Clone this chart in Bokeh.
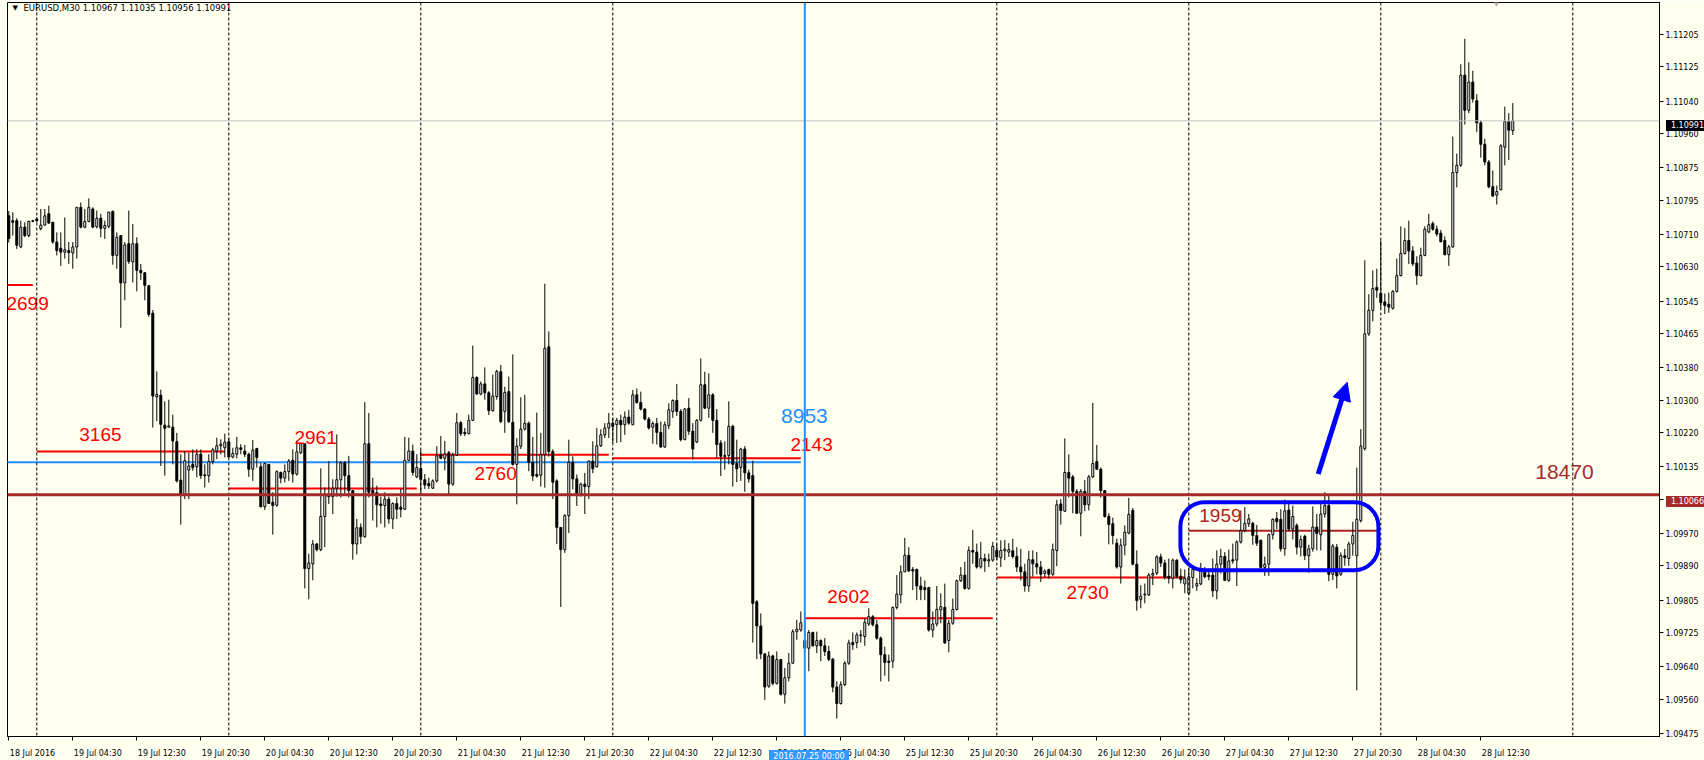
import pandas as pd
from bokeh.plotting import figure
from bokeh.layouts import column
from bokeh.models import (ColumnDataSource, Range1d, FixedTicker, PrintfTickFormatter,
                          Span, Label, BoxAnnotation, Arrow, NormalHead, Div)
from bokeh.core.properties import value
from bokeh.embed import file_html
from bokeh.resources import INLINE

# ---------------- data (EURUSD M30) ----------------
title_text = "EURUSD,M30  1.10967 1.11035 1.10956 1.10991"

open_ = [1.10756, 1.10744, 1.10744, 1.10679, 1.10728, 1.10707, 1.10742, 1.10748,
 1.10724, 1.10733, 1.10761, 1.10740, 1.10691, 1.10676, 1.10666, 1.10670, 1.10664, 1.10679,
 1.10777, 1.10728, 1.10742, 1.10773, 1.10729, 1.10750, 1.10725, 1.10730, 1.10767, 1.10658,
 1.10707, 1.10590, 1.10687, 1.10642, 1.10687, 1.10621, 1.10615, 1.10583, 1.10515, 1.10308,
 1.10312, 1.10238, 1.10233, 1.10233, 1.10197, 1.10102, 1.10066, 1.10127, 1.10141, 1.10135,
 1.10166, 1.10115, 1.10113, 1.10148, 1.10174, 1.10187, 1.10182, 1.10197, 1.10159, 1.10166,
 1.10182, 1.10174, 1.10166, 1.10129, 1.10180, 1.10135, 1.10036, 1.10141, 1.10047, 1.10040,
 1.10121, 1.10107, 1.10123, 1.10151, 1.10117, 1.10170, 1.10192, 1.09883, 1.09895, 1.09944,
 1.09930, 1.10012, 1.10067, 1.10061, 1.10082, 1.10103, 1.10145, 1.10113, 1.10076, 1.09944,
 1.09985, 1.09962, 1.10192, 1.10077, 1.10071, 1.10043, 1.10039, 1.10055, 1.10006, 1.10044,
 1.10035, 1.10030, 1.10151, 1.10174, 1.10110, 1.10131, 1.10103, 1.10094, 1.10082, 1.10100,
 1.10164, 1.10156, 1.10170, 1.10092, 1.10164, 1.10244, 1.10220, 1.10217, 1.10250, 1.10356,
 1.10315, 1.10340, 1.10318, 1.10274, 1.10309, 1.10370, 1.10272, 1.10321, 1.10245, 1.10141,
 1.10186, 1.10228, 1.10243, 1.10146, 1.10116, 1.10114, 1.10165, 1.10432, 1.10173, 1.10100,
 1.09985, 1.09930, 1.10014, 1.10146, 1.10105, 1.10069, 1.10092, 1.10086, 1.10149, 1.10135,
 1.10187, 1.10214, 1.10231, 1.10243, 1.10239, 1.10250, 1.10239, 1.10258, 1.10239, 1.10313,
 1.10294, 1.10278, 1.10253, 1.10233, 1.10242, 1.10220, 1.10184, 1.10237, 1.10272, 1.10299,
 1.10272, 1.10202, 1.10280, 1.10223, 1.10196, 1.10250, 1.10338, 1.10280, 1.10313, 1.10250,
 1.10194, 1.10160, 1.10163, 1.10235, 1.10143, 1.10133, 1.10179, 1.10120, 1.10113, 1.09801,
 1.09741, 1.09672, 1.09592, 1.09667, 1.09599, 1.09658, 1.09572, 1.09613, 1.09649, 1.09727,
 1.09731, 1.09705, 1.09686, 1.09725, 1.09692, 1.09705, 1.09692, 1.09678, 1.09659, 1.09590,
 1.09549, 1.09596, 1.09649, 1.09700, 1.09700, 1.09717, 1.09715, 1.09746, 1.09764, 1.09744,
 1.09711, 1.09670, 1.09654, 1.09654, 1.09787, 1.09818, 1.09875, 1.09916, 1.09881, 1.09881,
 1.09840, 1.09836, 1.09836, 1.09731, 1.09746, 1.09781, 1.09787, 1.09705, 1.09748, 1.09782,
 1.09853, 1.09867, 1.09834, 1.09928, 1.09924, 1.09887, 1.09908, 1.09902, 1.09904, 1.09928,
 1.09910, 1.09927, 1.09924, 1.09927, 1.09913, 1.09887, 1.09875, 1.09840, 1.09905, 1.09895,
 1.09887, 1.09871, 1.09881, 1.09869, 1.09928, 1.10043, 1.10025, 1.10121, 1.10110, 1.10074,
 1.10020, 1.10074, 1.10041, 1.10110, 1.10148, 1.10129, 1.10076, 1.10012, 1.09994, 1.09946,
 1.09887, 1.09941, 1.09971, 1.10027, 1.09894, 1.09807, 1.09818, 1.09818, 1.09867, 1.09872,
 1.09912, 1.09897, 1.09864, 1.09859, 1.09904, 1.09864, 1.09845, 1.09822, 1.09861, 1.09840,
 1.09845, 1.09881, 1.09867, 1.09867, 1.09828, 1.09894, 1.09913, 1.09854, 1.09905, 1.09904,
 1.09949, 1.09977, 1.09994, 1.09995, 1.09965, 1.09953, 1.09886, 1.09894, 1.09967, 1.10007,
 1.10005, 1.09932, 1.10028, 1.09981, 1.09990, 1.09936, 1.09963, 1.09915, 1.09932, 1.09986,
 1.09967, 1.10018, 1.10039, 1.09869, 1.09936, 1.09869, 1.09915, 1.09908, 1.09944, 1.09915,
 1.10002, 1.10180, 1.10464, 1.10522, 1.10579, 1.10564, 1.10543, 1.10537, 1.10527, 1.10569,
 1.10608, 1.10663, 1.10695, 1.10669, 1.10639, 1.10608, 1.10658, 1.10716, 1.10737, 1.10723,
 1.10713, 1.10695, 1.10660, 1.10679, 1.10863, 1.10881, 1.11104, 1.11017, 1.11087, 1.11041,
 1.10986, 1.10933, 1.10889, 1.10828, 1.10807, 1.10821, 1.10926, 1.10989, 1.10967]

high_ = [1.10768, 1.10765, 1.10750, 1.10744, 1.10740, 1.10744, 1.10746, 1.10752,
 1.10773, 1.10773, 1.10781, 1.10740, 1.10715, 1.10715, 1.10752, 1.10691, 1.10691, 1.10777,
 1.10789, 1.10773, 1.10799, 1.10777, 1.10769, 1.10761, 1.10744, 1.10766, 1.10769, 1.10715,
 1.10707, 1.10691, 1.10769, 1.10736, 1.10703, 1.10637, 1.10617, 1.10584, 1.10523, 1.10371,
 1.10326, 1.10297, 1.10301, 1.10264, 1.10219, 1.10166, 1.10174, 1.10170, 1.10178, 1.10178,
 1.10178, 1.10141, 1.10166, 1.10182, 1.10207, 1.10203, 1.10217, 1.10207, 1.10182, 1.10209,
 1.10191, 1.10189, 1.10170, 1.10201, 1.10182, 1.10145, 1.10145, 1.10141, 1.10072, 1.10126,
 1.10123, 1.10141, 1.10154, 1.10178, 1.10199, 1.10195, 1.10192, 1.09920, 1.09954, 1.09946,
 1.10131, 1.10084, 1.10149, 1.10104, 1.10215, 1.10149, 1.10149, 1.10162, 1.10077, 1.10006,
 1.09995, 1.10295, 1.10268, 1.10108, 1.10088, 1.10061, 1.10072, 1.10061, 1.10047, 1.10059,
 1.10080, 1.10209, 1.10207, 1.10190, 1.10166, 1.10176, 1.10117, 1.10108, 1.10104, 1.10186,
 1.10211, 1.10199, 1.10174, 1.10170, 1.10268, 1.10248, 1.10231, 1.10264, 1.10435, 1.10359,
 1.10346, 1.10381, 1.10322, 1.10363, 1.10375, 1.10387, 1.10333, 1.10358, 1.10413, 1.10206,
 1.10307, 1.10313, 1.10247, 1.10209, 1.10269, 1.10219, 1.10588, 1.10470, 1.10178, 1.10104,
 1.09985, 1.10018, 1.10202, 1.10161, 1.10116, 1.10096, 1.10120, 1.10151, 1.10198, 1.10231,
 1.10228, 1.10243, 1.10268, 1.10256, 1.10256, 1.10264, 1.10272, 1.10276, 1.10325, 1.10329,
 1.10321, 1.10280, 1.10258, 1.10247, 1.10256, 1.10247, 1.10247, 1.10292, 1.10302, 1.10340,
 1.10278, 1.10280, 1.10305, 1.10243, 1.10253, 1.10403, 1.10370, 1.10366, 1.10317, 1.10278,
 1.10201, 1.10198, 1.10297, 1.10239, 1.10202, 1.10182, 1.10186, 1.10128, 1.10150, 1.09805,
 1.09772, 1.09674, 1.09678, 1.09670, 1.09678, 1.09659, 1.09637, 1.09674, 1.09733, 1.09756,
 1.09777, 1.09756, 1.09731, 1.09727, 1.09727, 1.09708, 1.09711, 1.09692, 1.09662, 1.09604,
 1.09604, 1.09654, 1.09707, 1.09725, 1.09725, 1.09731, 1.09760, 1.09785, 1.09768, 1.09756,
 1.09715, 1.09690, 1.09670, 1.09789, 1.09867, 1.09891, 1.09959, 1.09936, 1.09887, 1.09883,
 1.09863, 1.09854, 1.09838, 1.09777, 1.09840, 1.09822, 1.09846, 1.09756, 1.09809, 1.09856,
 1.09887, 1.09900, 1.09938, 1.09979, 1.09945, 1.09949, 1.09920, 1.09920, 1.09949, 1.09945,
 1.09953, 1.09954, 1.09946, 1.09957, 1.09936, 1.09932, 1.09895, 1.09927, 1.09928, 1.09924,
 1.09902, 1.09881, 1.09883, 1.09945, 1.10053, 1.10055, 1.10205, 1.10166, 1.10115, 1.10080,
 1.10080, 1.10102, 1.10115, 1.10293, 1.10189, 1.10133, 1.10077, 1.10020, 1.10009, 1.09957,
 1.09957, 1.09990, 1.10058, 1.10033, 1.09928, 1.09842, 1.09846, 1.09872, 1.09883, 1.09916,
 1.09920, 1.09905, 1.09908, 1.09908, 1.09906, 1.09883, 1.09881, 1.09883, 1.09887, 1.09859,
 1.09897, 1.09887, 1.09883, 1.09908, 1.09928, 1.09932, 1.09924, 1.09930, 1.09945, 1.09953,
 1.10027, 1.10035, 1.10018, 1.09999, 1.09991, 1.09955, 1.09913, 1.09970, 1.10007, 1.10023,
 1.10030, 1.10054, 1.10049, 1.10039, 1.09995, 1.09965, 1.09967, 1.09942, 1.10037, 1.10018,
 1.10049, 1.10072, 1.10065, 1.09944, 1.09944, 1.09923, 1.09932, 1.09949, 1.09999, 1.10133,
 1.10228, 1.10646, 1.10562, 1.10621, 1.10625, 1.10695, 1.10564, 1.10566, 1.10572, 1.10650,
 1.10730, 1.10726, 1.10744, 1.10681, 1.10656, 1.10677, 1.10730, 1.10761, 1.10742, 1.10732,
 1.10721, 1.10705, 1.10684, 1.10952, 1.10910, 1.11131, 1.11194, 1.11136, 1.11115, 1.11057,
 1.10992, 1.10947, 1.10894, 1.10868, 1.10831, 1.10933, 1.11026, 1.11010, 1.11035]

low_ = [1.10690, 1.10707, 1.10674, 1.10676, 1.10703, 1.10703, 1.10740, 1.10740,
 1.10720, 1.10732, 1.10736, 1.10687, 1.10658, 1.10632, 1.10650, 1.10637, 1.10625, 1.10650,
 1.10725, 1.10725, 1.10740, 1.10725, 1.10725, 1.10703, 1.10699, 1.10725, 1.10635, 1.10625,
 1.10479, 1.10547, 1.10637, 1.10591, 1.10569, 1.10597, 1.10547, 1.10506, 1.10232, 1.10248,
 1.10137, 1.10113, 1.10232, 1.10141, 1.10096, 1.09992, 1.10055, 1.10055, 1.10125, 1.10109,
 1.10105, 1.10084, 1.10096, 1.10141, 1.10154, 1.10166, 1.10158, 1.10158, 1.10156, 1.10156,
 1.10166, 1.10159, 1.10110, 1.10100, 1.10133, 1.10035, 1.10028, 1.10043, 1.09967, 1.10036,
 1.10094, 1.10096, 1.10100, 1.10096, 1.10113, 1.10166, 1.09834, 1.09807, 1.09854, 1.09926,
 1.09926, 1.09936, 1.10043, 1.10018, 1.10061, 1.10059, 1.10067, 1.10059, 1.09905, 1.09918,
 1.09944, 1.09959, 1.10059, 1.10002, 1.09985, 1.09994, 1.09985, 1.09994, 1.09981, 1.10006,
 1.10010, 1.10028, 1.10149, 1.10113, 1.10107, 1.10063, 1.10080, 1.10080, 1.10080, 1.10096,
 1.10154, 1.10126, 1.10067, 1.10088, 1.10162, 1.10211, 1.10211, 1.10215, 1.10248, 1.10313,
 1.10312, 1.10301, 1.10263, 1.10271, 1.10301, 1.10243, 1.10219, 1.10243, 1.10138, 1.10042,
 1.10179, 1.10225, 1.10124, 1.10100, 1.10108, 1.10086, 1.10083, 1.10160, 1.10055, 1.09944,
 1.09788, 1.09922, 1.09971, 1.10079, 1.10038, 1.10061, 1.10018, 1.10055, 1.10119, 1.10133,
 1.10184, 1.10206, 1.10206, 1.10194, 1.10194, 1.10196, 1.10214, 1.10239, 1.10239, 1.10291,
 1.10274, 1.10250, 1.10227, 1.10192, 1.10190, 1.10182, 1.10182, 1.10228, 1.10256, 1.10261,
 1.10198, 1.10201, 1.10214, 1.10153, 1.10194, 1.10247, 1.10278, 1.10256, 1.10219, 1.10157,
 1.10112, 1.10128, 1.10141, 1.10086, 1.10097, 1.10100, 1.10073, 1.10096, 1.09700, 1.09659,
 1.09659, 1.09558, 1.09588, 1.09594, 1.09596, 1.09569, 1.09549, 1.09604, 1.09648, 1.09707,
 1.09727, 1.09674, 1.09629, 1.09690, 1.09674, 1.09654, 1.09667, 1.09654, 1.09577, 1.09512,
 1.09547, 1.09592, 1.09645, 1.09682, 1.09686, 1.09700, 1.09692, 1.09741, 1.09740, 1.09707,
 1.09604, 1.09618, 1.09604, 1.09637, 1.09782, 1.09797, 1.09875, 1.09875, 1.09830, 1.09805,
 1.09805, 1.09805, 1.09727, 1.09713, 1.09740, 1.09748, 1.09697, 1.09676, 1.09744, 1.09779,
 1.09850, 1.09831, 1.09831, 1.09895, 1.09883, 1.09883, 1.09875, 1.09887, 1.09900, 1.09904,
 1.09887, 1.09904, 1.09912, 1.09908, 1.09875, 1.09854, 1.09826, 1.09826, 1.09863, 1.09869,
 1.09850, 1.09861, 1.09859, 1.09864, 1.09889, 1.09992, 1.10023, 1.10059, 1.10020, 1.10018,
 1.09963, 1.10025, 1.10027, 1.10107, 1.10127, 1.10059, 1.10009, 1.09943, 1.09943, 1.09883,
 1.09846, 1.09916, 1.09968, 1.09891, 1.09779, 1.09785, 1.09797, 1.09815, 1.09842, 1.09867,
 1.09887, 1.09856, 1.09846, 1.09834, 1.09859, 1.09846, 1.09822, 1.09818, 1.09834, 1.09828,
 1.09842, 1.09859, 1.09854, 1.09813, 1.09807, 1.09871, 1.09853, 1.09850, 1.09895, 1.09840,
 1.09945, 1.09973, 1.09986, 1.09942, 1.09939, 1.09883, 1.09865, 1.09865, 1.09955, 1.09981,
 1.09925, 1.09915, 1.09976, 1.09955, 1.09918, 1.09913, 1.09904, 1.09873, 1.09925, 1.09928,
 1.09928, 1.10009, 1.09852, 1.09855, 1.09834, 1.09865, 1.09890, 1.09890, 1.09915, 1.09582,
 1.09997, 1.10175, 1.10459, 1.10495, 1.10553, 1.10527, 1.10513, 1.10516, 1.10524, 1.10566,
 1.10606, 1.10660, 1.10637, 1.10632, 1.10585, 1.10606, 1.10656, 1.10713, 1.10719, 1.10705,
 1.10690, 1.10658, 1.10632, 1.10677, 1.10826, 1.10877, 1.10982, 1.11010, 1.11036, 1.10963,
 1.10900, 1.10881, 1.10824, 1.10803, 1.10784, 1.10818, 1.10881, 1.10894, 1.10956]

close_ = [1.10700, 1.10740, 1.10683, 1.10728, 1.10707, 1.10742, 1.10744, 1.10744,
 1.10733, 1.10756, 1.10738, 1.10691, 1.10670, 1.10666, 1.10672, 1.10665, 1.10679, 1.10777,
 1.10728, 1.10742, 1.10777, 1.10728, 1.10750, 1.10725, 1.10732, 1.10765, 1.10658, 1.10703,
 1.10590, 1.10684, 1.10643, 1.10687, 1.10621, 1.10615, 1.10584, 1.10512, 1.10310, 1.10314,
 1.10240, 1.10230, 1.10236, 1.10199, 1.10100, 1.10068, 1.10150, 1.10137, 1.10133, 1.10166,
 1.10113, 1.10113, 1.10148, 1.10177, 1.10187, 1.10191, 1.10196, 1.10159, 1.10168, 1.10182,
 1.10178, 1.10166, 1.10129, 1.10176, 1.10158, 1.10036, 1.10143, 1.10044, 1.10039, 1.10123,
 1.10107, 1.10123, 1.10149, 1.10117, 1.10172, 1.10192, 1.09883, 1.09897, 1.09944, 1.09930,
 1.10012, 1.10067, 1.10061, 1.10082, 1.10103, 1.10145, 1.10113, 1.10076, 1.09944, 1.09984,
 1.09962, 1.10192, 1.10072, 1.10069, 1.10041, 1.10039, 1.10055, 1.10006, 1.10044, 1.10030,
 1.10030, 1.10151, 1.10174, 1.10121, 1.10133, 1.10104, 1.10090, 1.10088, 1.10100, 1.10162,
 1.10156, 1.10167, 1.10092, 1.10164, 1.10244, 1.10217, 1.10217, 1.10250, 1.10356, 1.10315,
 1.10340, 1.10318, 1.10274, 1.10310, 1.10371, 1.10247, 1.10319, 1.10247, 1.10141, 1.10186,
 1.10228, 1.10243, 1.10146, 1.10112, 1.10112, 1.10165, 1.10428, 1.10173, 1.10097, 1.09985,
 1.09930, 1.10014, 1.10146, 1.10105, 1.10069, 1.10092, 1.10086, 1.10149, 1.10130, 1.10187,
 1.10214, 1.10231, 1.10243, 1.10235, 1.10250, 1.10239, 1.10258, 1.10243, 1.10313, 1.10294,
 1.10278, 1.10253, 1.10231, 1.10242, 1.10220, 1.10184, 1.10239, 1.10276, 1.10299, 1.10272,
 1.10202, 1.10278, 1.10223, 1.10179, 1.10250, 1.10338, 1.10280, 1.10313, 1.10250, 1.10190,
 1.10161, 1.10163, 1.10235, 1.10141, 1.10130, 1.10179, 1.10120, 1.10105, 1.09797, 1.09741,
 1.09672, 1.09590, 1.09667, 1.09599, 1.09658, 1.09572, 1.09613, 1.09649, 1.09727, 1.09733,
 1.09749, 1.09686, 1.09725, 1.09692, 1.09705, 1.09692, 1.09678, 1.09658, 1.09590, 1.09549,
 1.09596, 1.09649, 1.09699, 1.09695, 1.09719, 1.09719, 1.09750, 1.09764, 1.09744, 1.09711,
 1.09670, 1.09651, 1.09651, 1.09787, 1.09820, 1.09875, 1.09916, 1.09877, 1.09877, 1.09840,
 1.09831, 1.09831, 1.09731, 1.09746, 1.09782, 1.09789, 1.09699, 1.09748, 1.09782, 1.09853,
 1.09867, 1.09834, 1.09928, 1.09924, 1.09887, 1.09908, 1.09902, 1.09905, 1.09938, 1.09912,
 1.09928, 1.09931, 1.09930, 1.09913, 1.09887, 1.09875, 1.09840, 1.09905, 1.09895, 1.09887,
 1.09869, 1.09877, 1.09869, 1.09930, 1.10041, 1.10027, 1.10121, 1.10107, 1.10074, 1.10020,
 1.10074, 1.10041, 1.10110, 1.10143, 1.10129, 1.10076, 1.10012, 1.09992, 1.09965, 1.09887,
 1.09941, 1.09973, 1.10017, 1.09894, 1.09804, 1.09815, 1.09820, 1.09867, 1.09871, 1.09912,
 1.09897, 1.09861, 1.09859, 1.09904, 1.09864, 1.09856, 1.09859, 1.09863, 1.09881, 1.09846,
 1.09881, 1.09863, 1.09863, 1.09828, 1.09894, 1.09913, 1.09854, 1.09902, 1.09902, 1.09949,
 1.09977, 1.09995, 1.10006, 1.09965, 1.09946, 1.09886, 1.09894, 1.09967, 1.10005, 1.09999,
 1.09932, 1.10026, 1.09981, 1.10012, 1.09936, 1.09955, 1.09915, 1.09932, 1.09986, 1.09970,
 1.10018, 1.10039, 1.09869, 1.09939, 1.09865, 1.09915, 1.09910, 1.09944, 1.09965, 1.10005,
 1.10186, 1.10464, 1.10522, 1.10576, 1.10572, 1.10541, 1.10534, 1.10530, 1.10569, 1.10608,
 1.10663, 1.10695, 1.10669, 1.10637, 1.10608, 1.10658, 1.10723, 1.10734, 1.10723, 1.10711,
 1.10692, 1.10660, 1.10679, 1.10863, 1.10881, 1.11104, 1.11017, 1.11087, 1.11045, 1.10986,
 1.10933, 1.10889, 1.10828, 1.10805, 1.10816, 1.10929, 1.10989, 1.10968, 1.10991]

bar_times = (list(pd.date_range("2016-07-18 20:30", "2016-07-22 23:30", freq="30min")) +
             list(pd.date_range("2016-07-25 00:00", "2016-07-28 16:30", freq="30min")))

y_ticks = [1.09475, 1.09560, 1.09640, 1.09725, 1.09805, 1.09890, 1.09970, 1.10055,
           1.10135, 1.10220, 1.10300, 1.10380, 1.10465, 1.10545, 1.10630, 1.10710,
           1.10795, 1.10875, 1.10960, 1.11040, 1.11125, 1.11205]

# daily volume levels
level_days = ["2016-07-18", "2016-07-19", "2016-07-20", "2016-07-21",
              "2016-07-22", "2016-07-25", "2016-07-26", "2016-07-27"]
level_prices = [1.10585, 1.10173, 1.10081, 1.10165, 1.10156, 1.09760, 1.09861, 1.09977]
level_volumes = ["2699", "3165", "2961", "2760", "2143", "2602", "2730", "1959"]
level_colors = ["#ff0000"] * 7 + ["#b22222"]
# label anchor positions (bar index, price)
level_label_x = [4.7, 22.9, 76.7, 121.7, 200.7, 209.9, 269.7, 302.9]
level_label_y = [1.10539, 1.10214, 1.10207, 1.10118, 1.10189, 1.09813, 1.09825, 1.10015]

# weekly levels
week_prev_price = 1.10146
week_prev_volume = "8953"
week_cur_price = 1.10066
week_cur_volume = "18470"
bid_price = 1.10991

# ---------------- derived ----------------
n = len(bar_times)
xs = list(range(n))
day_of = [t.strftime("%Y-%m-%d") for t in bar_times]

def first_idx(day):
    return day_of.index(day)

def last_idx(day):
    return n - 1 - day_of[::-1].index(day)

BG = "#fffff0"
FONT = "DejaVu Sans"

# frame geometry
FRAME_L, FRAME_T, FRAME_W, FRAME_H = 7, 2, 1652, 738
X0, X1 = -0.325, 412.675
Y0, Y1 = 1.094676, 1.112838

p = figure(width=1704, height=760, output_backend="svg", toolbar_location=None,
           x_range=Range1d(X0, X1), y_range=Range1d(Y0, Y1),
           y_axis_location="right", min_border_left=FRAME_L, min_border_right=45,
           min_border_top=FRAME_T, min_border_bottom=20,
           background_fill_color=BG, border_fill_color=BG,
           outline_line_color="black", outline_line_width=1)
p.xgrid.visible = False
p.ygrid.visible = False

# day separators (dashed)
day_starts = [i for i, t in enumerate(bar_times) if t.hour == 0 and t.minute == 0]
day_starts.append(day_starts[-1] + 48)
blue_idx = xs[bar_times.index(pd.Timestamp("2016-07-25 00:00"))]
for d in day_starts:
    if d == blue_idx:
        continue
    p.add_layout(Span(location=d, dimension="height", line_color="black",
                      line_width=1, line_dash="3 2"))

# bid line
p.add_layout(Span(location=bid_price, dimension="width", line_color="#c0c0c0", line_width=1))

# weekly lines
wk_end = last_idx("2016-07-22")
p.segment(x0=[-41], x1=[wk_end], y0=[week_prev_price], y1=[week_prev_price],
          line_color="#1e90ff", line_width=2)
p.add_layout(Span(location=week_cur_price, dimension="width", line_color="#a52a2a", line_width=3))

# daily level lines
lx0 = [first_idx(d) if d != "2016-07-18" else -41 for d in level_days]
lx1 = [last_idx(d) for d in level_days]
p.segment(x0=lx0, x1=lx1, y0=level_prices, y1=level_prices, line_color=level_colors, line_width=2)

# vertical line at week start
p.add_layout(Span(location=blue_idx, dimension="height", line_color="#1e90ff", line_width=2))

# candles
src = ColumnDataSource(dict(
    x=xs, o=open_, h=high_, l=low_, c=close_,
    top=[max(a, b) for a, b in zip(open_, close_)],
    bot=[min(a, b) for a, b in zip(open_, close_)],
    fill=["white" if c >= o else "black" for o, c in zip(open_, close_)]))
p.segment(x0="x", x1="x", y0="l", y1="h", source=src, line_color="black", line_width=1)
p.vbar(x="x", width=0.5, top="top", bottom="bot", source=src,
       fill_color="fill", line_color="black", line_width=1)

# level texts
p.text(x=level_label_x, y=level_label_y, text=level_volumes, text_color=level_colors,
       text_font=value("Liberation Sans"), text_font_size="19px",
       text_align="center", text_baseline="middle")
p.text(x=[198.9], y=[1.10261], text=[week_prev_volume], text_color="#1e90ff",
       text_font=value("Liberation Sans"), text_font_size="21px",
       text_align="center", text_baseline="middle")
p.text(x=[388.9], y=[1.10123], text=[week_cur_volume], text_color="#a52a2a",
       text_font=value("Liberation Sans"), text_font_size="21px",
       text_align="center", text_baseline="middle")

# consolidation box and arrow
p.add_layout(BoxAnnotation(left=292.9, right=342.4, bottom=1.09879, top=1.10047,
                           fill_alpha=0, fill_color=None, line_color="#0000ff",
                           line_alpha=1.0, line_width=4, border_radius=24))
p.add_layout(Arrow(x_start=327.35, y_start=1.10117, x_end=334.6, y_end=1.10344,
                   line_color="#0000ff", line_width=5,
                   end=NormalHead(size=18, fill_color="#0000ff", line_color="#0000ff")))

# right price axis
ya = p.yaxis[0]
ya.ticker = FixedTicker(ticks=y_ticks, minor_ticks=[])
ya.formatter = PrintfTickFormatter(format="%.5f")
ya.major_tick_out = 4
ya.major_tick_in = 0
ya.minor_tick_out = 0
ya.minor_tick_in = 0
ya.major_label_standoff = 2
ya.major_label_text_font = FONT
ya.major_label_text_font_size = "8px"
ya.major_label_text_color = "black"
ya.axis_line_color = "black"

# bottom time axis: tick marks at the bars, labels starting at the tick (MT4 style)
PX_PER_BAR = FRAME_W / (X1 - X0)
CH_EM = {"d": 0.636, " ": 0.318, "J": 0.295, "u": 0.634, "l": 0.278, ":": 0.337}

def text_px(s, size=8):
    return sum(CH_EM["d"] if ch.isdigit() else CH_EM.get(ch, 0.6) for ch in s) * size

tick_idx = [i for i, t in enumerate(bar_times)
            if t.strftime("%H:%M") in ("04:30", "12:30", "20:30")]
label_pos, overrides = [], {}
for i in tick_idx:
    t = bar_times[i]
    s = (f"{t.day} {t.strftime('%b %Y')}" if i == 0 else f"{t.day} {t.strftime('%b %H:%M')}")
    pos = round(i + (1 + text_px(s) / 2) / PX_PER_BAR, 2)
    label_pos.append(pos)
    overrides[pos] = s
xa = p.xaxis[0]
xa.ticker = FixedTicker(ticks=label_pos, minor_ticks=tick_idx)
xa.major_label_overrides = overrides
xa.major_tick_line_color = None
xa.major_tick_out = 0
xa.major_tick_in = 0
xa.minor_tick_out = 4
xa.minor_tick_in = 0
xa.minor_tick_line_color = "black"
xa.major_label_standoff = 8
xa.major_label_text_font = FONT
xa.major_label_text_font_size = "8px"
xa.major_label_text_color = "black"
xa.axis_line_color = "black"

# header
p.add_layout(Label(x=5, y=729, x_units="screen", y_units="screen", text="\u25bc",
                   text_font=FONT, text_font_size="7px", text_color="black",
                   text_baseline="middle"))
p.add_layout(Label(x=16, y=729, x_units="screen", y_units="screen", text=title_text,
                   text_font=FONT, text_font_size="8.5px", text_color="black",
                   text_baseline="middle"))
p.add_layout(Label(x=371.9, y=733, x_units="data", y_units="screen", text="\u25bc",
                   text_font=FONT, text_font_size="8px", text_color="#b0b0b0",
                   text_align="center", text_baseline="middle"))


# ---- tags drawn on the axes (date of the vertical line, bid and level prices) ----
def sx(xv):
    return FRAME_L + (xv - X0) * PX_PER_BAR

def sy(yv):
    return FRAME_T + (Y1 - yv) * FRAME_H / (Y1 - Y0)

def tag_div(text, left, top, w, h, bg):
    return Div(text=text, width=w, height=h, styles={
        "position": "absolute", "left": f"{left:.0f}px", "top": f"{top:.0f}px",
        "background-color": bg, "color": "white", "font-family": FONT,
        "font-size": "8px", "line-height": f"{h}px", "text-align": "center",
        "white-space": "nowrap", "overflow": "hidden", "z-index": "10"})

tags = [
    tag_div(bar_times[blue_idx].strftime("%Y.%m.%d %H:%M"), sx(blue_idx) - 40, 745, 80, 13,
            "#3399ff"),
    tag_div(f"{bid_price:.5f}", FRAME_L + FRAME_W + 2, sy(bid_price) - 5.5, 43, 11, "black"),
    tag_div(f"{week_cur_price:.5f}", FRAME_L + FRAME_W + 2, sy(week_cur_price) - 5.5, 43, 11,
            "#a52a2a"),
]

layout = column(p, *tags)
open("out.html", "w").write(file_html(layout, INLINE))
